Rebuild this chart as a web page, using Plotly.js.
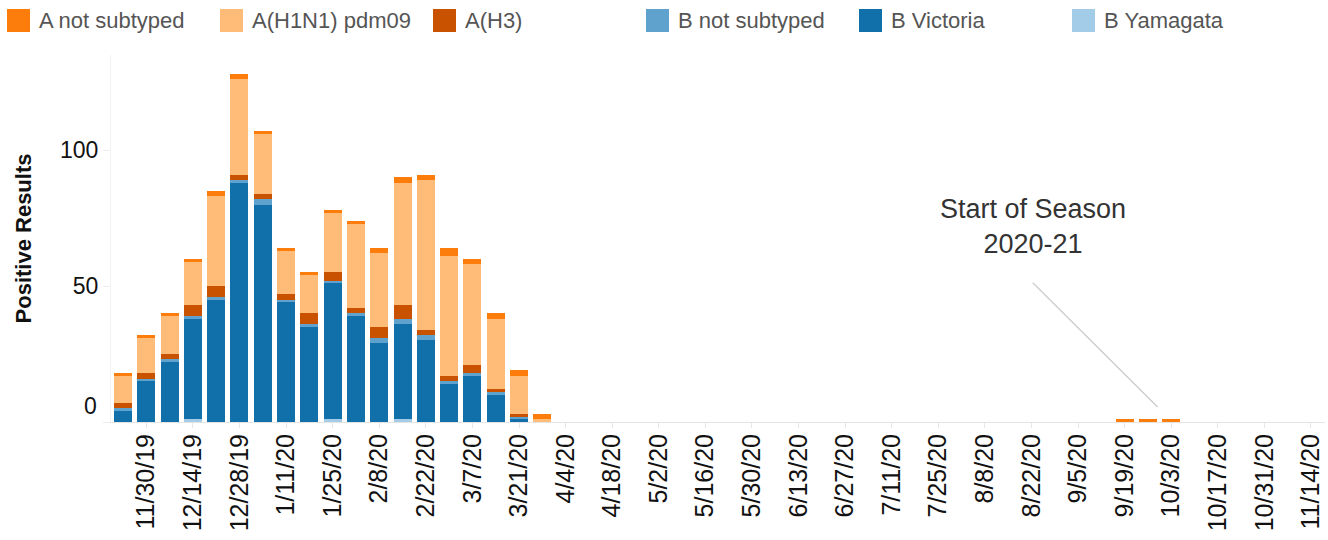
<!DOCTYPE html>
<html><head><meta charset="utf-8">
<script src="https://cdn.plot.ly/plotly-3.0.1.min.js"></script>
<style>body{margin:0;background:#fff}#chart{width:1328px;height:540px}</style>
</head><body><div id="chart"></div><script>
const weeks = ['2019-11-23','2019-11-30','2019-12-07','2019-12-14','2019-12-21','2019-12-28',
'2020-01-04','2020-01-11','2020-01-18','2020-01-25','2020-02-01','2020-02-08','2020-02-15','2020-02-22','2020-02-29',
'2020-03-07','2020-03-14','2020-03-21','2020-03-28','2020-04-04','2020-04-11','2020-04-18','2020-04-25',
'2020-05-02','2020-05-09','2020-05-16','2020-05-23','2020-05-30','2020-06-06','2020-06-13','2020-06-20','2020-06-27',
'2020-07-04','2020-07-11','2020-07-18','2020-07-25','2020-08-01','2020-08-08','2020-08-15','2020-08-22','2020-08-29',
'2020-09-05','2020-09-12','2020-09-19','2020-09-26','2020-10-03','2020-10-10','2020-10-17','2020-10-24','2020-10-31',
'2020-11-07','2020-11-14'];

const bYamagata   = [0,0,0,1,0,0,0,0,0,1,0,0,1,0,0,0,0,0,0, 0,0,0,0,0,0,0,0,0,0,0,0,0,0,0,0,0,0,0,0,0,0,0,0, 0,0,0, 0,0,0,0,0,0];
const bVictoria   = [4,15,22,37,45,88,80,44,35,50,39,29,35,30,14,17,10,1,0, 0,0,0,0,0,0,0,0,0,0,0,0,0,0,0,0,0,0,0,0,0,0,0,0, 0,0,0, 0,0,0,0,0,0];
const bNotSubtyped= [1,1,1,1,1,1,2,1,1,1,1,2,2,2,1,1,1,1,0, 0,0,0,0,0,0,0,0,0,0,0,0,0,0,0,0,0,0,0,0,0,0,0,0, 0,0,0, 0,0,0,0,0,0];
const aH3         = [2,2,2,4,4,2,2,2,4,3,2,4,5,2,2,3,1,1,0, 0,0,0,0,0,0,0,0,0,0,0,0,0,0,0,0,0,0,0,0,0,0,0,0, 0,0,0, 0,0,0,0,0,0];
const aH1N1       = [10,13,14,16,33,35,22,16,14,22,31,27,45,55,44,37,26,14,1, 0,0,0,0,0,0,0,0,0,0,0,0,0,0,0,0,0,0,0,0,0,0,0,0, 0,0,0, 0,0,0,0,0,0];
const aNotSubtyped= [1,1,1,1,2,2,1,1,1,1,1,2,2,2,3,2,2,2,2, 0,0,0,0,0,0,0,0,0,0,0,0,0,0,0,0,0,0,0,0,0,0,0,0, 1,1,1, 0,0,0,0,0,0];

const legendNames  = ['A not subtyped','A(H1N1) pdm09','A(H3)','B not subtyped','B Victoria','B Yamagata'];
const legendColors = ['#fc7d0b','#ffbc79','#c85200','#5fa2ce','#1170aa','#a3cce9'];
const yTickVals = [0,50,100];
const yTickText = ['','50','100'];
const noteText = 'Start of Season<br>2020-21';

// stacking order bottom -> top
const stack = [
  ['B Yamagata', bYamagata],
  ['B Victoria', bVictoria],
  ['B not subtyped', bNotSubtyped],
  ['A(H3)', aH3],
  ['A(H1N1) pdm09', aH1N1],
  ['A not subtyped', aNotSubtyped]
];
const colorOf = n => legendColors[legendNames.indexOf(n)];
const traces = stack.map(([name, vals]) => ({
  type:'bar', name, x: weeks, y: vals,
  marker:{color: colorOf(name), line:{width:0}},
  hoverinfo:'x+y+name', showlegend:false
}));

const DAY = 86400000;
const t0 = new Date(weeks[0]+'T00:00:00Z').getTime();
const t1 = new Date(weeks[weeks.length-1]+'T00:00:00Z').getTime();
const fmt = t => new Date(t).toISOString().replace('T',' ').slice(0,19);

const L = 111, R = 3, T = 55, B = 118, W = 1328, H = 540;
const pw = W - L - R, ph = H - T - B;
const px2x = p => (p - L) / pw;
const py2y = p => (H - B - p) / ph;

const shapes = [], annotations = [];
legendNames.forEach((n, i) => {
  const left = 7 + i * 213;
  shapes.push({type:'rect', xref:'paper', yref:'paper',
    x0: px2x(left), x1: px2x(left + 23), y0: py2y(32), y1: py2y(9),
    fillcolor: legendColors[i], line:{width:0}});
  annotations.push({xref:'paper', yref:'paper', x: px2x(left + 30), y: py2y(21),
    xanchor:'left', yanchor:'middle', showarrow:false, text: n,
    font:{family:'Liberation Sans, Arial, sans-serif', size:22, color:'#555'}});
});

// note + leader line
const noteX = fmt(new Date('2020-08-22T00:00:00Z').getTime() + 0.4*DAY);
shapes.push({type:'line', xref:'x', yref:'y',
  x0: noteX, y0: 51.2,
  x1: fmt(new Date('2020-09-26T00:00:00Z').getTime() + 2.9*DAY), y1: 5.5,
  line:{color:'#cccccc', width:1.3}});
annotations.push({xref:'x', yref:'y', x: noteX, y: 71.8, xanchor:'center', yanchor:'middle',
  showarrow:false, text: noteText, align:'center',
  font:{family:'Liberation Sans, Arial, sans-serif', size:27, color:'#333'}});

// displaced zero label
annotations.push({xref:'paper', yref:'y', x: px2x(99), y: 0, yshift: 16,
  xanchor:'right', yanchor:'middle', showarrow:false, text:'0',
  font:{family:'Liberation Sans, Arial, sans-serif', size:23, color:'#111'}});

const layout = {
  width: W, height: H, margin:{l:L, r:R, t:T, b:B}, autosize:false,
  paper_bgcolor:'#fff', plot_bgcolor:'#fff',
  barmode:'stack', bargap:0.227, showlegend:false,
  font:{family:'Liberation Sans, Arial, sans-serif', color:'#111'},
  xaxis:{type:'date', range:[fmt(t0 - 3.607*DAY), fmt(t1 + 4.21*DAY)],
    tick0:'2019-11-30', dtick: 14*DAY, tickformat:'%-m/%-d/%y', tickangle:-90,
    ticks:'outside', ticklen:5, tickcolor:'#e6e6e6', ticklabelstandoff:-4,
    showline:true, linecolor:'#e4e4e4', linewidth:1, showgrid:false, zeroline:false,
    tickfont:{size:25, color:'#111'}, fixedrange:true},
  yaxis:{range:[0,135], tickvals:yTickVals, ticktext:yTickText,
    ticks:'outside', ticklen:7, tickcolor:'#eeeeee', ticklabelstandoff:0,
    showline:true, linecolor:'#f2f2f2', showgrid:false, zeroline:false,
    tickfont:{size:23, color:'#111'},
    title:{text:'<b>Positive Results</b>', standoff:22, font:{size:22, color:'#111'}}, fixedrange:true},
  shapes, annotations
};
Plotly.newPlot('chart', traces, layout, {displayModeBar:false, staticPlot:true});
</script></body></html>
